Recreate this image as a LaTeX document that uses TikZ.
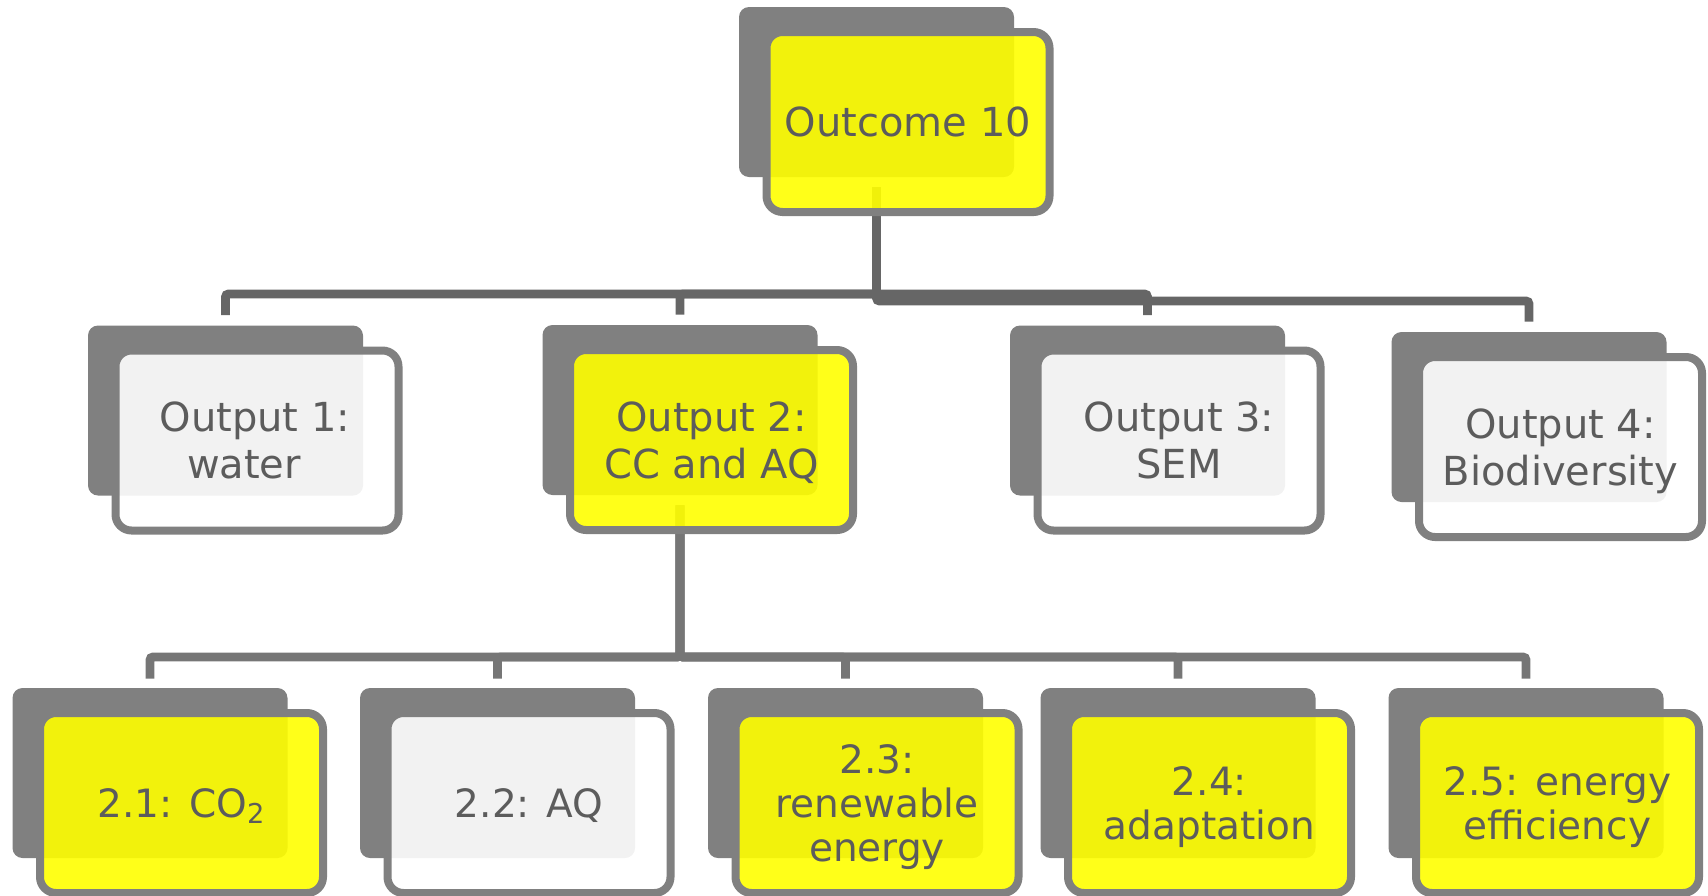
\documentclass[tikz,border=0pt]{standalone}
\usepackage{amsmath}
\usepackage{fontspec}
\setmainfont{DejaVu Sans}
\usepackage{tikz}
\usetikzlibrary{positioning}
\usetikzlibrary{calc}

\definecolor{boxgray}{HTML}{808080}
\definecolor{linegray}{HTML}{666666}
\definecolor{linegraylow}{HTML}{767676}
\definecolor{txtgray}{HTML}{5C5C5C}
\definecolor{hiyellow}{HTML}{FFFF00}

\begin{document}
\begin{tikzpicture}[x=0.5pt,y=-0.5pt,
  shadowbox/.style={rectangle,rounded corners=5pt,fill=boxgray,minimum width=137.5pt,minimum height=85pt,inner sep=0pt},
  frontbox/.style={rectangle,rounded corners=8pt,draw=boxgray,line width=4pt,fill opacity=0.9,text opacity=1,minimum width=141.5pt,minimum height=90pt,inner sep=0pt,align=center,text=txtgray},
  hi/.style={frontbox,fill=hiyellow},
  lo/.style={frontbox,fill=white},
  big/.style={font=\fontsize{20}{23.5}\selectfont},
  small/.style={font=\fontsize{19.5}{22}\selectfont},
  conn/.style={line width=4.4pt,rounded corners=1.5pt,draw=linegray},
  connlow/.style={conn,draw=linegraylow}]
\useasboundingbox (0,0) rectangle (1708,895);
%%%%%%%%%%%%%%%%%%%%%%%%%%%%%%%%%%%%%
\node[shadowbox] (ocb) at (876.5,92) {};
%%%%%%%%%%%%%%%%%%%%%%%%%%%%%%%%%%%%%
\node[shadowbox] (op1b) at (225.5,410.5) {};
\node[shadowbox] (op2b) at (680,410) {};
\node[shadowbox] (op3b) at (1147.5,410.5) {};
\node[shadowbox] (op4b) at (1529,417) {};
%%%%%%%%%%%%%%%%%%%%%%%%%%%%%%%%%%%%%
\node[shadowbox] (t1b) at (150,773) {};
\node[shadowbox] (t2b) at (497.5,773) {};
\node[shadowbox] (t3b) at (845.5,773) {};
\node[shadowbox] (t4b) at (1178,773) {};
\node[shadowbox] (t5b) at (1526,773) {};
%%%%%%%%%%%%%%
\coordinate (aux0) at ($(ocb.south)+(0,10)$);
\coordinate (bar1) at (0,294);
\coordinate (bar2) at (0,301);
\coordinate (d1) at ($(op1b.north)+(0,-10)$);
\coordinate (d2) at ($(op2b.north)+(0,-10)$);
\coordinate (d3) at ($(op3b.north)+(0,-10)$);
\coordinate (d4) at ($(op4b.north)+(0,-10)$);
%%%%%%%%%%%%%%
\coordinate (aux5) at ($(op2b.south)+(0,10)$);
\coordinate (bar3) at (0,657);
\coordinate (d21) at ($(t1b.north)+(0,-9)$);
\coordinate (d22) at ($(t2b.north)+(0,-9)$);
\coordinate (d23) at ($(t3b.north)+(0,-9)$);
\coordinate (d24) at ($(t4b.north)+(0,-9)$);
\coordinate (d25) at ($(t5b.north)+(0,-9)$);

\draw[conn] (aux0) |- (bar1 -| d1) -- (d1);
\draw[conn] (aux0) |- (bar1 -| d2) -- (d2);
\draw[conn] (aux0) |- (bar1 -| d3) -- (d3);
\draw[conn] (aux0) |- (bar2 -| d4) -- (d4);
%%%%%%%%%%%%%%%%%%%%%%%%%%%%%
\draw[connlow] (aux5) |- (bar3 -| d21) -- (d21);
\draw[connlow] (aux5) |- (bar3 -| d22) -- (d22);
\draw[connlow] (aux5) |- (bar3 -| d23) -- (d23);
\draw[connlow] (aux5) |- (bar3 -| d24) -- (d24);
\draw[connlow] (aux5) |- (bar3 -| d25) -- (d25);
%%%%%%%%%%%%%%%%%%%%%%%%%%%%%
\node[hi,big] (oc) at ($(ocb)+(31.5,30)$) {Outcome 10};
%%%%%%%%%%%%%%%%%%%%%%%%%%%%%
\node[lo,big] (op1) at ($(op1b)+(31.5,30)$) {Output 1:\kern2pt\\water\kern13pt};
\node[hi,big] (op2) at ($(op2b)+(31.5,30)$) {Output 2:\\\smash[b]{CC and AQ}};
\node[lo,big] (op3) at ($(op3b)+(31.5,30)$) {Output 3:\\SEM};
\node[lo,big] (op4) at ($(op4b)+(31.5,30)$) {Output 4:\\\smash[b]{Biodiversity}};
%%%%%%%%%%%%%%%%%%%%%%%%%%%%%
\node[hi,small] (t1) at ($(t1b)+(31.5,30)$) {\smash[b]{2.1: CO\textsubscript{2}}};
\node[lo,small] (t2) at ($(t2b)+(31.5,30)$) {\smash[b]{2.2: AQ}};
\node[hi,small] (t3) at ($(t3b)+(31.5,30)$) {2.3:\\renewable\\\smash[b]{energy}};
\node[hi,small] (t4) at ($(t4b)+(31.5,30)$) {2.4:\\\smash[b]{adaptation}};
\node[hi,small] (t5) at ($(t5b)+(31.5,30)$) {2.5: energy\\\smash[b]{efficiency}};
\end{tikzpicture}
\end{document}
